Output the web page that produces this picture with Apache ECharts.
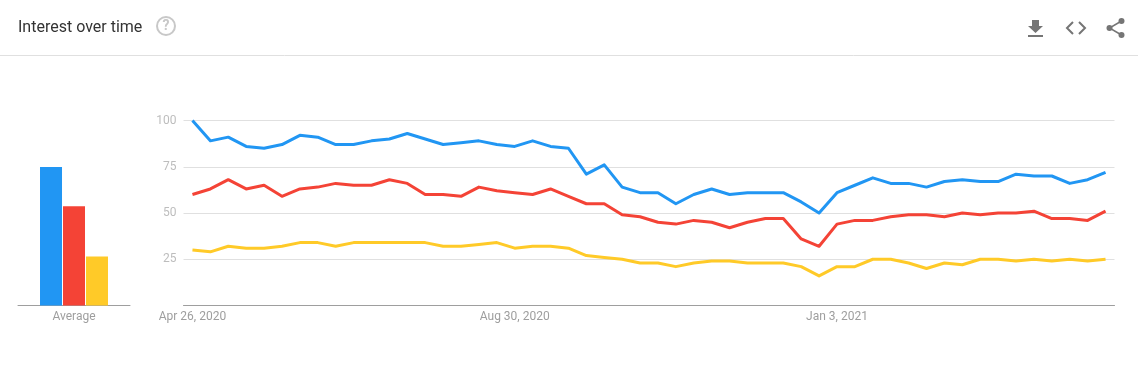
<!DOCTYPE html>
<html>
<head>
<meta charset="utf-8">
<title>Interest over time</title>
<style>
	html,body{margin:0;padding:0;background:#fff;}
	#main{width:1138px;height:378px;}
</style>
<script src="https://cdn.jsdelivr.net/npm/echarts@6/dist/echarts.min.js"></script>
</head>
<body>
<div id="main"></div>
<script>
	var weeks = [
		"Apr 26, 2020","May 3, 2020","May 10, 2020","May 17, 2020","May 24, 2020","May 31, 2020",
		"Jun 7, 2020","Jun 14, 2020","Jun 21, 2020","Jun 28, 2020","Jul 5, 2020","Jul 12, 2020",
		"Jul 19, 2020","Jul 26, 2020","Aug 2, 2020","Aug 9, 2020","Aug 16, 2020","Aug 23, 2020",
		"Aug 30, 2020","Sep 6, 2020","Sep 13, 2020","Sep 20, 2020","Sep 27, 2020","Oct 4, 2020",
		"Oct 11, 2020","Oct 18, 2020","Oct 25, 2020","Nov 1, 2020","Nov 8, 2020","Nov 15, 2020",
		"Nov 22, 2020","Nov 29, 2020","Dec 6, 2020","Dec 13, 2020","Dec 20, 2020","Dec 27, 2020",
		"Jan 3, 2021","Jan 10, 2021","Jan 17, 2021","Jan 24, 2021","Jan 31, 2021","Feb 7, 2021",
		"Feb 14, 2021","Feb 21, 2021","Feb 28, 2021","Mar 7, 2021","Mar 14, 2021","Mar 21, 2021",
		"Mar 28, 2021","Apr 4, 2021","Apr 11, 2021","Apr 18, 2021"
	];
	var shownWeeks = ["Apr 26, 2020","Aug 30, 2020","Jan 3, 2021"];
	var blueValues = [100,89,91,86,85,87,92,91,87,87,89,90,93,90,87,88,89,87,86,89,86,85,71,76,64,61,61,55,60,63,60,61,61,61,56,50,61,65,69,66,66,64,67,68,67,67,71,70,70,66,68,72];
	var redValues = [60,63,68,63,65,59,63,64,66,65,65,68,66,60,60,59,64,62,61,60,63,59,55,55,49,48,45,44,46,45,42,45,47,47,36,32,44,46,46,48,49,49,48,50,49,50,50,51,47,47,46,51];
	var yellowValues = [30,29,32,31,31,32,34,34,32,34,34,34,34,34,32,32,33,34,31,32,32,31,27,26,25,23,23,21,23,24,24,23,23,23,21,16,21,21,25,25,23,20,23,22,25,25,24,25,24,25,24,25];
	var averages = [74.8,53.7,26.5];
	var averageLabel = ["Average"];

	var colors = ["#2196f3","#f44336","#ffca28"];
	var font = "Roboto";
	var iconColor = "#757575";

	function lineSeries(values,color){
		return {
			type:"line",
			xAxisIndex:1,
			yAxisIndex:1,
			data:values,
			symbol:"none",
			silent:true,
			lineStyle:{color:color,width:3,join:"round"}
		};
	}
	function barSeries(value,color){
		return {
			type:"bar",
			xAxisIndex:0,
			yAxisIndex:0,
			data:[value],
			barWidth:22,
			barGap:"4.5%",
			silent:true,
			itemStyle:{color:color}
		};
	}

	var myChart = echarts.init(document.getElementById("main"),null,{renderer:"canvas"});
	var option = {
		animation:false,
		backgroundColor:"#fff",
		title:{
			text:"Interest over time",
			left:13,
			top:15,
			textStyle:{fontFamily:font,fontSize:16,fontWeight:"normal",color:"#333"}
		},
		grid:[
			{left:18,width:112,top:120.5,height:185},
			{left:183.5,width:931,top:120.5,height:185}
		],
		xAxis:[
			{
				type:"category",
				gridIndex:0,
				data:averageLabel,
				axisLine:{lineStyle:{color:"#9e9e9e",width:1}},
				axisTick:{show:false},
				axisLabel:{fontFamily:font,fontSize:12,color:"#9e9e9e",margin:5}
			},
			{
				type:"category",
				gridIndex:1,
				data:weeks,
				axisLine:{lineStyle:{color:"#9e9e9e",width:1}},
				axisTick:{show:false},
				axisLabel:{
					fontFamily:font,fontSize:12,color:"#9e9e9e",margin:5,hideOverlap:false,
					interval:function(i,name){
						return shownWeeks.indexOf(name) != -1;
					}
				}
			}
		],
		yAxis:[
			{
				type:"value",
				gridIndex:0,
				min:0,
				max:100,
				show:false
			},
			{
				type:"value",
				gridIndex:1,
				min:0,
				max:100,
				interval:25,
				axisLine:{show:false},
				axisTick:{show:false},
				splitLine:{lineStyle:{color:"#e0e0e0",width:1}},
				axisLabel:{
					fontFamily:font,fontSize:12,color:"#bdbdbd",margin:7,
					formatter:function(v){
						return v == 0 ? "" : v;
					}
				}
			}
		],
		graphic:[
			// header divider
			{type:"line",shape:{x1:0,y1:55.5,x2:1138,y2:55.5},style:{stroke:"#e0e0e0",lineWidth:1},silent:true},
			// help icon
			{type:"circle",shape:{cx:166,cy:26,r:9},style:{fill:"none",stroke:"#c8c8c8",lineWidth:2},silent:true},
			{type:"text",x:166,y:26,style:{text:"?",fontFamily:font,fontSize:14,fontWeight:"bold",fill:"#c8c8c8",align:"center",verticalAlign:"middle"},silent:true},
			// download
			{type:"polygon",shape:{points:[[1032,20],[1039,20],[1039,26],[1043,26],[1035.5,33],[1028,26],[1032,26]]},style:{fill:iconColor},silent:true},
			{type:"rect",shape:{x:1028,y:35,width:15,height:2},style:{fill:iconColor},silent:true},
			// embed
			{type:"polyline",shape:{points:[[1073,22],[1067,28],[1073,34]]},style:{fill:"none",stroke:iconColor,lineWidth:2},silent:true},
			{type:"polyline",shape:{points:[[1079,22],[1085,28],[1079,34]]},style:{fill:"none",stroke:iconColor,lineWidth:2},silent:true},
			// share
			{type:"polyline",shape:{points:[[1121.5,21],[1109.5,28],[1121.5,35]]},style:{fill:"none",stroke:iconColor,lineWidth:1.5},silent:true},
			{type:"circle",shape:{cx:1109.5,cy:28,r:3},style:{fill:iconColor},silent:true},
			{type:"circle",shape:{cx:1121.5,cy:21,r:3},style:{fill:iconColor},silent:true},
			{type:"circle",shape:{cx:1121.5,cy:35,r:3},style:{fill:iconColor},silent:true}
		],
		series:[
			barSeries(averages[0],colors[0]),
			barSeries(averages[1],colors[1]),
			barSeries(averages[2],colors[2]),
			lineSeries(yellowValues,colors[2]),
			lineSeries(redValues,colors[1]),
			lineSeries(blueValues,colors[0])
		]
	};
	myChart.setOption(option);
</script>
</body>
</html>
